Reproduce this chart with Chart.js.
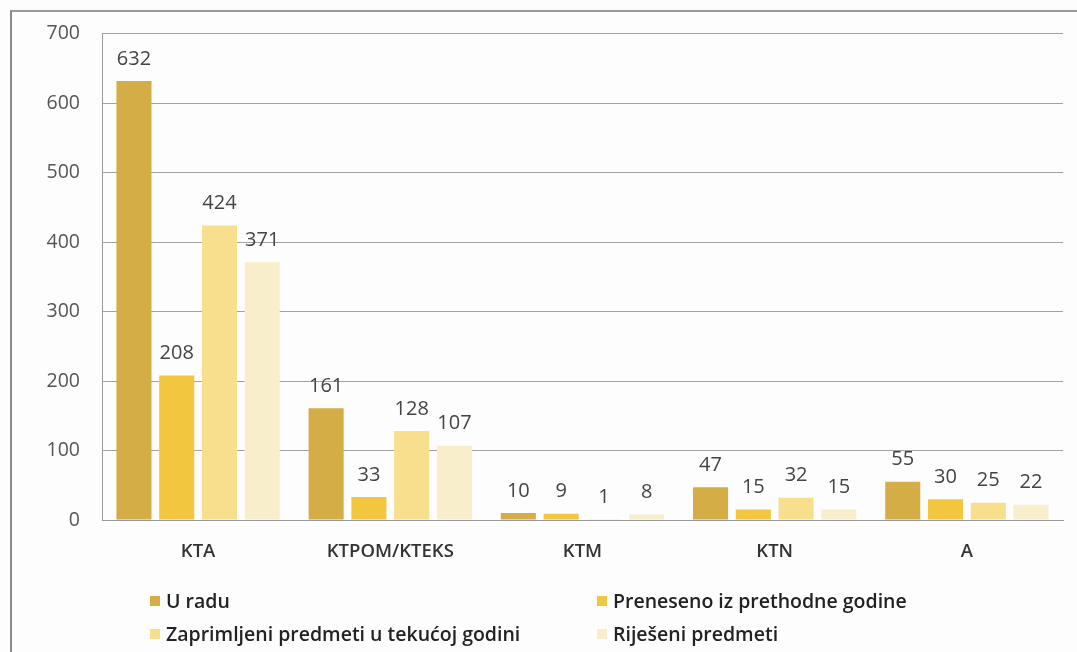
<!DOCTYPE html>
<html>
<head>
<meta charset="utf-8">
<script src="https://cdn.jsdelivr.net/npm/chart.js@4"></script>
<style>
  html, body { margin: 0; padding: 0; background: #fdfdfe; }
  #wrap { position: relative; width: 1077px; height: 652px; overflow: hidden; }
  #frame { position: absolute; left: 10px; top: 10px; width: 1080px; height: 660px;
           border-left: 2px solid #8a8a8a; border-top: 2px solid #9a9a9a; box-sizing: border-box; }
  canvas { position: absolute; left: 0; top: 0; }
  .leg { position: absolute; font-family: "Open Sans", Lato, sans-serif; font-size: 19.5px;
         color: #222; font-weight: 600; white-space: nowrap; line-height: 22px; }
  .leg span.sw { display: inline-block; width: 10px; height: 10px; margin-right: 6px; vertical-align: 2px; }
</style>
</head>
<body>
<div id="wrap">
  <div id="frame"></div>
  <canvas id="c" width="1077" height="652"></canvas>
  <div id="legend"></div>
</div>
<script>
const categories = ["KTA", "KTPOM/KTEKS", "KTM", "KTN", "A"];
const seriesNames = ["U radu", "Preneseno iz prethodne godine", "Zaprimljeni predmeti u tekućoj godini", "Riješeni predmeti"];
const uRadu = [632, 161, 10, 47, 55];
const preneseno = [208, 33, 9, 15, 30];
const zaprimljeni = [424, 128, 1, 32, 25];
const rijeseni = [371, 107, 8, 15, 22];
const yTicks = [0, 100, 200, 300, 400, 500, 600, 700];

const colors = ["#d5ad47", "#f3c63f", "#f7df8d", "#f8eecb"];
const seriesValues = [uRadu, preneseno, zaprimljeni, rijeseni];
const FONT = "'Open Sans', Lato, sans-serif";

const valueLabels = {
  id: "valueLabels",
  afterDatasetsDraw(chart) {
    const ctx = chart.ctx;
    ctx.save();
    ctx.font = "20px " + FONT;
    ctx.fillStyle = "#444";
    ctx.textAlign = "center";
    ctx.textBaseline = "middle";
    chart.data.datasets.forEach((ds, i) => {
      chart.getDatasetMeta(i).data.forEach((bar, j) => {
        ctx.fillText(String(ds.data[j]), bar.x, bar.y - 22);
      });
    });
    ctx.restore();
  }
};

new Chart(document.getElementById("c"), {
  type: "bar",
  data: {
    labels: categories,
    datasets: seriesNames.map((n, i) => ({
      label: n,
      data: seriesValues[i],
      backgroundColor: colors[i],
      borderWidth: 0,
      categoryPercentage: 0.89,
      barPercentage: 0.82
    }))
  },
  options: {
    responsive: false,
    animation: false,
    layout: { padding: { left: 10, right: 14, top: 33, bottom: 82 } },
    plugins: { legend: { display: false }, tooltip: { enabled: false } },
    scales: {
      x: {
        grid: { display: false },
        border: { display: true, color: "#999" },
        ticks: { color: "#333", font: { family: FONT, size: 18.5, weight: "600" }, padding: 13 },
        afterFit(s) { s.height = 50; }
      },
      y: {
        min: 0, max: 700,
        afterBuildTicks(s) { s.ticks = yTicks.map(v => ({ value: v })); },
        grid: { color: "#a3a3a3", drawTicks: false },
        border: { display: true, color: "#999" },
        ticks: { color: "#555", font: { family: FONT, size: 19.5 }, padding: 22 },
        afterFit(s) { s.width = 92; }
      }
    }
  },
  plugins: [valueLabels]
});

const legendPos = [[150, 590], [597, 590], [150, 623], [597, 623]];
const legEl = document.getElementById("legend");
seriesNames.forEach((n, i) => {
  const d = document.createElement("div");
  d.className = "leg";
  d.style.left = legendPos[i][0] + "px";
  d.style.top = legendPos[i][1] + "px";
  const sw = document.createElement("span");
  sw.className = "sw";
  sw.style.background = colors[i];
  d.appendChild(sw);
  d.appendChild(document.createTextNode(n));
  legEl.appendChild(d);
});
</script>
</body>
</html>
